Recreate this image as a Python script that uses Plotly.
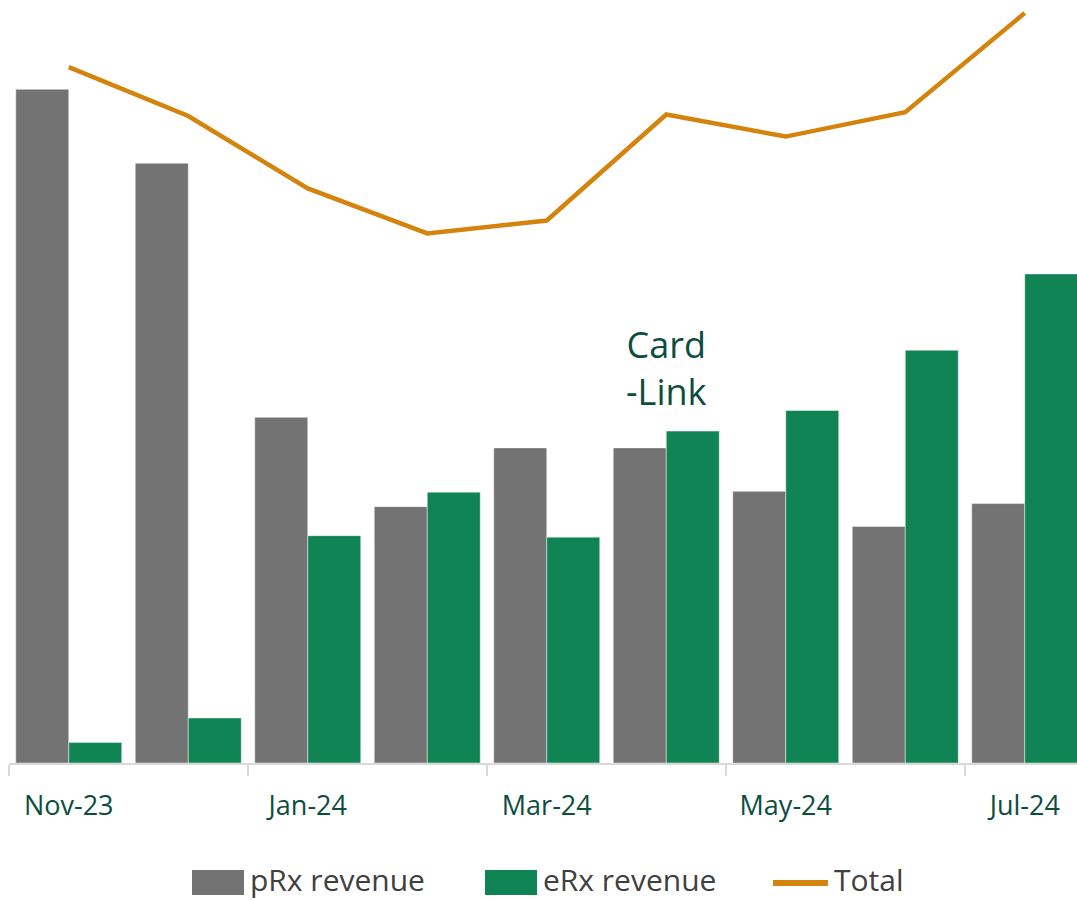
import plotly.graph_objects as go

# Monthly revenue split by prescription type
months = ["Nov-23", "Dec-23", "Jan-24", "Feb-24", "Mar-24",
          "Apr-24", "May-24", "Jun-24", "Jul-24"]
prx_revenue = [88.3, 78.6, 45.3, 33.6, 41.3, 41.3, 35.6, 31.0, 34.0]
erx_revenue = [2.7, 5.9, 29.8, 35.5, 29.6, 43.5, 46.2, 54.1, 64.1]
total_revenue = [91.2, 84.8, 75.3, 69.4, 71.1, 85.0, 82.1, 85.3, 98.3]

GREY = "#737373"
GREEN = "#108455"
ORANGE = "#D4840C"
LABEL_GREEN = "#0D4D3F"
TEXT_GREY = "#404040"
FONT = "Open Sans"

W, H = 1077, 900
M_L, M_R, M_T, M_B = 9, 0, 0, 137
PLOT_W = W - M_L - M_R
PLOT_H = H - M_T - M_B


def paper_x(px):
    return (px - M_L) / PLOT_W


def paper_y(py):
    return (H - M_B - py) / PLOT_H


fig = go.Figure()
fig.add_trace(go.Bar(
    x=months, y=prx_revenue, name="pRx revenue",
    marker=dict(color=GREY, line=dict(color="rgba(255,255,255,0.45)", width=1)),
    showlegend=False,
))
fig.add_trace(go.Bar(
    x=months, y=erx_revenue, name="eRx revenue",
    marker=dict(color=GREEN, line=dict(color="rgba(255,255,255,0.45)", width=1)),
    showlegend=False,
))
fig.add_trace(go.Scatter(
    x=months, y=total_revenue, name="Total", mode="lines",
    line=dict(color=ORANGE, width=4.5),
    showlegend=False,
))

# Card-Link launch note above April
fig.add_annotation(
    x="Apr-24", y=51.8, xref="x", yref="y",
    text="Card<br>-Link", showarrow=False,
    font=dict(family=FONT, size=36, color=LABEL_GREEN),
    align="center", yanchor="middle",
)

# Legend row under the axis
legend_items = [
    ("box", GREY, 192, 244, "pRx revenue", 249),
    ("box", GREEN, 485, 537, "eRx revenue", 542),
    ("line", ORANGE, 773, 828, "Total", 833),
]
shapes = []
for kind, color, x0, x1, label, tx in legend_items:
    if kind == "box":
        shapes.append(dict(
            type="rect", xref="paper", yref="paper",
            x0=paper_x(x0), x1=paper_x(x1), y0=paper_y(895), y1=paper_y(870),
            fillcolor=color, line=dict(width=0),
        ))
    else:
        shapes.append(dict(
            type="line", xref="paper", yref="paper",
            x0=paper_x(x0), x1=paper_x(x1), y0=paper_y(883), y1=paper_y(883),
            line=dict(color=color, width=6),
        ))
    fig.add_annotation(
        x=paper_x(tx), y=paper_y(879), xref="paper", yref="paper",
        text=label, showarrow=False, xanchor="left", yanchor="middle",
        borderpad=0,
        font=dict(family=FONT, size=30, color=TEXT_GREY),
    )

fig.update_layout(
    width=W, height=H,
    margin=dict(l=M_L, r=M_R, t=M_T, b=M_B),
    paper_bgcolor="white", plot_bgcolor="white",
    barmode="group", bargap=0.113, bargroupgap=0,
    shapes=shapes,
    font=dict(family=FONT),
)
fig.update_xaxes(
    type="category",
    range=[-0.5, -0.5 + PLOT_W / 119.5],
    tickson="boundaries", dtick=2,
    ticks="outside", ticklen=11, tickwidth=1.5, tickcolor="#d9d9d9",
    showline=True, linecolor="#d9d9d9", linewidth=1.5,
    showgrid=False, zeroline=False,
    tickfont=dict(family=FONT, size=27, color=LABEL_GREEN),
    ticklabelstandoff=18,
    fixedrange=True,
)
fig.update_yaxes(
    range=[0, 100], visible=False, showgrid=False, fixedrange=True,
)

fig.write_html("out.html")
